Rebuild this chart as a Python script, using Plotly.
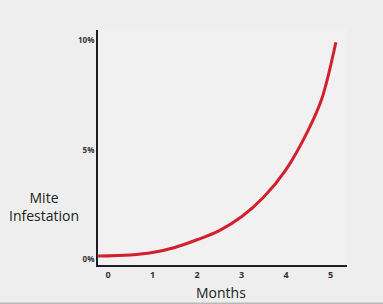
import plotly.graph_objects as go

months = [-0.22, 0.5, 1.0, 1.5, 2.0, 2.5, 3.0, 3.5, 4.0, 4.5, 4.8, 5.12]
infestation = [0.16, 0.21, 0.32, 0.55, 0.9, 1.32, 1.95, 2.85, 4.1, 5.9, 7.3, 9.9]
x_ticks = [0, 1, 2, 3, 4, 5]
y_ticks = [0, 5, 10]
y_tick_labels = ["0%", "5%", "10%"]

fig = go.Figure()
fig.add_trace(go.Scatter(
    x=months, y=infestation, mode="lines",
    line=dict(color="#d3202f", width=3, shape="spline", smoothing=1.0),
    hoverinfo="skip", showlegend=False,
))

fig.update_layout(
    width=383, height=304,
    margin=dict(l=98, r=36, t=30, b=39, autoexpand=False),
    paper_bgcolor="#edeeed",
    plot_bgcolor="#f0f1f0",
    font=dict(family="'Open Sans', sans-serif", color="#2a2a2a"),
    xaxis=dict(
        range=[-0.225, 5.37], tickvals=x_ticks, ticktext=[str(v) for v in x_ticks],
        showgrid=False, zeroline=False, showline=True, linecolor="#1e1e28", linewidth=2,
        ticks="", tickfont=dict(size=9, color="#333333", weight="bold"), automargin=False,
    ),
    yaxis=dict(
        range=[-0.25, 10.46], tickvals=y_ticks, ticktext=y_tick_labels,
        showgrid=False, zeroline=False, showline=True, linecolor="#1e1e28", linewidth=2,
        ticks="", tickfont=dict(size=8, color="#333333", weight="bold"), automargin=False,
    ),
    annotations=[
        dict(text="Mite<br>Infestation", xref="paper", yref="paper",
             x=-0.215, y=0.25, xanchor="center", yanchor="middle", showarrow=False,
             font=dict(size=14, color="#222222"), align="center"),
        dict(text="Months", xref="paper", yref="paper",
             x=0.494, y=-0.119, xanchor="center", yanchor="middle", showarrow=False,
             font=dict(size=14, color="#222222")),
    ],
    shapes=[dict(type="rect", xref="paper", yref="paper", x0=-0.5, x1=1.2,
                 y0=-0.17, y1=-0.16, fillcolor="#b8b9b8", line=dict(width=0),
                 layer="below")],
)

fig.write_html("out.html", config={"displayModeBar": False},
               post_script="document.body.style.margin='0';")
